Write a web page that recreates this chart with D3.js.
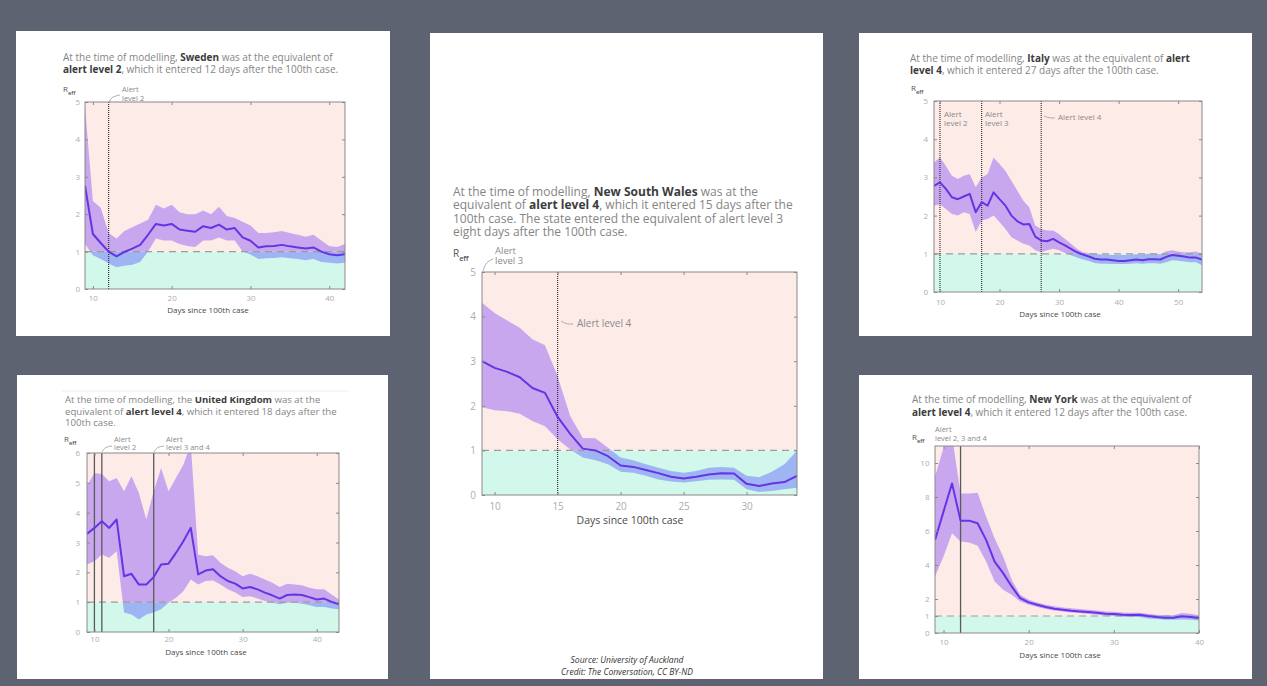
<!DOCTYPE html>
<html>
<head>
<meta charset="utf-8">
<script src="https://cdn.jsdelivr.net/npm/d3@7"></script>
<style>
html, body { margin: 0; padding: 0; background: #5e6371; }
svg { display: block; }
text { font-family: "Open Sans", sans-serif; }
</style>
</head>
<body>
<svg id="chart" width="1267" height="686"></svg>
<script>
// ---- data (days since 100th case, R_eff median and band) ----
const swedenDays = [9,10,11,12,13,14,15,16,17,18,19,20,21,22,23,24,25,26,27,28,29,30,31,32,33,34,35,36,37,38,39,40,41,42];
const swedenMedian = [2.76,1.47,1.23,1.0,0.87,0.99,1.08,1.18,1.45,1.74,1.7,1.74,1.59,1.56,1.53,1.68,1.63,1.72,1.59,1.63,1.38,1.29,1.11,1.14,1.15,1.18,1.14,1.11,1.08,1.11,1.0,0.93,0.9,0.93];
const swedenUpper = [4.87,2.35,2.17,1.5,1.35,1.55,1.65,1.75,1.85,2.25,2.15,2.25,2.05,2.0,2.0,2.1,2.0,2.2,1.95,1.9,1.8,1.7,1.5,1.5,1.52,1.55,1.5,1.45,1.4,1.45,1.3,1.15,1.12,1.2];
const swedenLower = [1.2,0.9,0.8,0.68,0.58,0.62,0.65,0.72,1.0,1.35,1.3,1.3,1.2,1.15,1.12,1.3,1.3,1.38,1.3,1.3,1.0,0.92,0.8,0.82,0.83,0.85,0.82,0.8,0.77,0.8,0.72,0.7,0.68,0.7];
const swedenXTicks = [10,20,30,40];
const swedenYTicks = [0,1,2,3,4,5];
const swedenAlerts = [12];

const nswDays = [9,10,11,12,13,14,15,16,17,18,19,20,21,22,23,24,25,26,27,28,29,30,31,32,33,34];
const nswMedian = [3.0,2.85,2.76,2.64,2.4,2.29,1.75,1.37,1.04,1.0,0.87,0.66,0.63,0.56,0.49,0.41,0.37,0.41,0.46,0.49,0.48,0.25,0.2,0.26,0.29,0.43];
const nswUpper = [4.31,4.08,3.91,3.75,3.49,3.36,2.66,1.77,1.28,1.27,1.06,0.84,0.78,0.69,0.61,0.54,0.5,0.54,0.61,0.63,0.61,0.43,0.4,0.52,0.69,0.99];
const nswLower = [1.97,1.9,1.88,1.82,1.66,1.54,1.25,1.02,0.84,0.78,0.69,0.52,0.5,0.43,0.35,0.3,0.28,0.31,0.34,0.35,0.34,0.13,0.07,0.09,0.13,0.16];
const nswXTicks = [10,15,20,25,30];
const nswYTicks = [0,1,2,3,4,5];
const nswAlerts = [15];

const italyDays = [9,10,11,12,13,14,15,16,17,18,19,20,21,22,23,24,25,26,27,28,29,30,31,32,33,34,35,36,37,38,39,40,41,42,43,44,45,46,47,48,49,50,51,52,53,54];
const italyMedian = [2.78,2.87,2.7,2.48,2.43,2.5,2.57,2.09,2.35,2.26,2.61,2.43,2.26,2.0,1.85,1.77,1.78,1.45,1.35,1.33,1.39,1.3,1.22,1.13,1.04,0.98,0.93,0.87,0.85,0.85,0.83,0.81,0.81,0.83,0.85,0.83,0.86,0.86,0.85,0.92,0.97,0.95,0.93,0.9,0.9,0.85];
const italyUpper = [3.39,3.52,3.3,3.04,2.96,3.04,3.09,2.74,3.0,3.09,3.52,3.35,3.17,2.91,2.65,2.39,2.22,1.74,1.65,1.61,1.61,1.52,1.39,1.26,1.13,1.04,1.02,1.0,0.98,0.98,0.97,0.97,0.97,0.98,0.99,0.98,1.0,1.0,0.99,1.07,1.09,1.06,1.04,1.04,1.06,1.0];
const italyLower = [2.26,2.3,2.17,2.04,2.0,2.09,2.04,1.57,1.87,1.91,2.0,1.83,1.65,1.43,1.35,1.26,1.22,1.09,1.04,1.09,1.13,1.09,1.02,0.96,0.9,0.85,0.81,0.76,0.74,0.74,0.73,0.73,0.73,0.74,0.75,0.74,0.75,0.75,0.74,0.78,0.83,0.82,0.8,0.78,0.78,0.7];
const italyXTicks = [10,20,30,40,50];
const italyYTicks = [0,1,2,3,4,5];
const italyAlerts = [10,17,27];

const ukDays = [9,10,11,12,13,14,15,16,17,18,19,20,21,22,23,24,25,26,27,28,29,30,31,32,33,34,35,36,37,38,39,40,41,42,43];
const ukMedian = [3.29,3.49,3.71,3.49,3.77,1.87,1.95,1.59,1.59,1.84,2.26,2.29,2.65,3.04,3.49,1.93,2.06,2.1,1.87,1.71,1.62,1.46,1.51,1.43,1.32,1.23,1.12,1.24,1.26,1.24,1.17,1.09,1.12,1.01,0.93];
const ukUpper = [4.9,5.33,5.3,5.05,5.16,4.72,5.22,4.66,3.77,4.72,5.5,4.72,5.16,5.61,6.3,2.6,2.54,2.57,2.32,2.15,2.04,1.87,1.95,1.87,1.76,1.65,1.51,1.62,1.59,1.57,1.48,1.43,1.43,1.26,1.09];
const ukLower = [2.26,2.37,2.6,2.49,2.71,0.65,0.59,0.42,0.59,0.65,0.76,0.98,1.15,1.37,1.76,1.59,1.71,1.73,1.59,1.43,1.32,1.17,1.2,1.12,1.04,0.98,0.93,0.98,0.98,0.95,0.9,0.84,0.84,0.79,0.76];
const ukXTicks = [10,20,30,40];
const ukYTicks = [0,1,2,3,4,5,6];
const ukAlerts = [10,11,18];

const nyDays = [9,10,11,12,13,14,15,16,17,18,19,20,21,22,23,24,25,26,27,28,29,30,31,32,33,34,35,36,37,38,39,40];
const nyMedian = [5.48,7.14,8.8,6.61,6.61,6.46,5.48,4.2,3.52,2.74,2.05,1.8,1.66,1.53,1.43,1.37,1.31,1.27,1.23,1.19,1.13,1.12,1.08,1.06,1.08,1.0,0.94,0.9,0.9,0.98,0.94,0.88];
const nyUpper = [9.2,10.9,11.6,8.2,8.2,8.25,6.85,5.58,4.5,3.13,2.25,1.96,1.8,1.66,1.57,1.5,1.45,1.41,1.37,1.33,1.27,1.25,1.21,1.19,1.19,1.13,1.08,1.04,1.04,1.17,1.13,1.04];
const nyLower = [3.33,4.5,5.87,5.38,5.32,5.13,4.2,3.03,2.54,2.25,1.86,1.66,1.53,1.41,1.33,1.27,1.21,1.17,1.12,1.08,1.02,1.0,0.96,0.94,0.94,0.86,0.82,0.78,0.78,0.8,0.78,0.74];
const nyXTicks = [10,20,30,40];
const nyYTicks = [0,1,2,4,6,8,10];
const nyAlerts = [12];

const xLabel = "Days since 100th case";

// ---- colours ----
const PINK = "#fdebe8", MINT = "#d2f8ec";
const BAND_UP = "#c9a7ef", BAND_DOWN = "#9fb5f3";
const LINE = "#6634e4";

const svg = d3.select("#chart");
const defs = svg.append("defs");

function drawPanel(cfg) {
    const g = svg.append("g");
    const [bx0, by0, bx1, by1] = cfg.box;
    g.append("rect").attr("x", bx0).attr("y", by0)
        .attr("width", bx1 - bx0).attr("height", by1 - by0).attr("fill", "#fff");

    const [l, t, r, b] = cfg.plot;
    const x = d3.scaleLinear().domain(cfg.xDomain).range([l, r]);
    const y = d3.scaleLinear().domain(cfg.yDomain).range([b, t]);
    const y1 = y(1);

    // caption, one text block with a tspan run per line
    const cap = g.append("text").attr("font-size", cfg.titleSize).attr("fill", "#858585");
    cfg.title.forEach((line, i) => {
        line.forEach((seg, j) => {
            const ts = cap.append("tspan").text(seg[0])
                .attr("font-weight", seg[1] ? 700 : null)
                .attr("fill", seg[1] ? "#3c3c3c" : null);
            if (j === 0) ts.attr("x", cfg.titleX).attr("y", cfg.titleY + i * cfg.lineH);
        });
    });

    // R_eff label
    const reff = g.append("text").attr("x", cfg.reff[0]).attr("y", cfg.reff[1])
        .attr("font-size", cfg.reffSize).attr("fill", "#555");
    reff.append("tspan").text("R");
    reff.append("tspan").text("eff").attr("font-size", cfg.reffSize * 0.72)
        .attr("font-weight", 600).attr("dy", cfg.reffSize * 0.35);

    // regions above / below R = 1
    g.append("rect").attr("x", l).attr("y", t).attr("width", r - l).attr("height", y1 - t).attr("fill", PINK);
    g.append("rect").attr("x", l).attr("y", y1).attr("width", r - l).attr("height", b - y1).attr("fill", MINT);

    defs.append("clipPath").attr("id", cfg.id + "-up").append("rect")
        .attr("x", l).attr("y", t).attr("width", r - l).attr("height", y1 - t);
    defs.append("clipPath").attr("id", cfg.id + "-down").append("rect")
        .attr("x", l).attr("y", y1).attr("width", r - l).attr("height", b - y1);
    defs.append("clipPath").attr("id", cfg.id + "-plot").append("rect")
        .attr("x", l).attr("y", t).attr("width", r - l).attr("height", b - t);

    const days = cfg.days;
    const area = d3.area()
        .x((d, i) => x(days[i]))
        .y0((d, i) => y(cfg.lower[i]))
        .y1((d, i) => y(cfg.upper[i]));

    g.append("path").datum(cfg.median).attr("d", area)
        .attr("fill", BAND_UP).attr("clip-path", `url(#${cfg.id}-up)`);
    g.append("path").datum(cfg.median).attr("d", area)
        .attr("fill", BAND_DOWN).attr("clip-path", `url(#${cfg.id}-down)`);

    // R = 1 reference
    g.append("line").attr("x1", l).attr("x2", r).attr("y1", y1).attr("y2", y1)
        .attr("stroke", "#9c9c9c").attr("stroke-width", 1.2).attr("stroke-dasharray", "7,5");

    // alert level lines
    cfg.alerts.forEach(day => {
        g.append("line").attr("x1", x(day)).attr("x2", x(day)).attr("y1", t).attr("y2", b)
            .attr("stroke", cfg.alertSolid ? "#5a5a5a" : "#333")
            .attr("stroke-width", cfg.alertSolid ? 1.3 : 1.2)
            .attr("stroke-dasharray", cfg.alertSolid ? null : "1,1");
    });

    // median
    const line = d3.line().x((d, i) => x(days[i])).y(d => y(d));
    g.append("path").datum(cfg.median).attr("d", line)
        .attr("fill", "none").attr("stroke", LINE).attr("stroke-width", 2)
        .attr("stroke-linejoin", "round").attr("clip-path", `url(#${cfg.id}-plot)`);

    // axes: inward ticks on all four sides
    const fmt = d3.format("d");
    const styleAxis = sel => {
        sel.select(".domain").remove();
        sel.attr("font-family", '"Open Sans", sans-serif').attr("font-size", cfg.tickSize);
        sel.selectAll("line").attr("stroke", "#8a8a8a");
        sel.selectAll("text").attr("fill", "#adadad");
    };
    g.append("g").attr("transform", `translate(0,${b})`)
        .call(d3.axisBottom(x).tickValues(cfg.xTicks).tickFormat(fmt).tickSizeInner(-3).tickSizeOuter(0).tickPadding(cfg.xPad))
        .call(styleAxis);
    g.append("g").attr("transform", `translate(0,${t})`)
        .call(d3.axisTop(x).tickValues(cfg.xTicks).tickSizeInner(-3).tickSizeOuter(0).tickFormat(""))
        .call(styleAxis);
    g.append("g").attr("transform", `translate(${l},0)`)
        .call(d3.axisLeft(y).tickValues(cfg.yTicks).tickFormat(fmt).tickSizeInner(-3).tickSizeOuter(0).tickPadding(cfg.yPad))
        .call(styleAxis);
    g.append("g").attr("transform", `translate(${r},0)`)
        .call(d3.axisRight(y).tickValues(cfg.yTicks).tickSizeInner(-3).tickSizeOuter(0).tickFormat(""))
        .call(styleAxis);

    g.append("rect").attr("x", l).attr("y", t).attr("width", r - l).attr("height", b - t)
        .attr("fill", "none").attr("stroke", "#8a8a8a").attr("stroke-width", 1);

    g.append("text").attr("x", cfg.xLabelPos[0]).attr("y", cfg.xLabelPos[1])
        .attr("text-anchor", "middle").attr("font-size", cfg.xLabelSize)
        .attr("fill", "#4a4a4a").text(xLabel);

    // annotations
    cfg.notes.forEach(n => {
        const txt = g.append("text").attr("font-size", n.size).attr("fill", "#8a8a8a");
        n.lines.forEach((s, i) => {
            txt.append("tspan").attr("x", n.x).attr("y", n.y + i * n.lh).text(s);
        });
    });
    cfg.leaders.forEach(p => {
        g.append("path").attr("d", d3.line().curve(d3.curveBasis)(p))
            .attr("fill", "none").attr("stroke", "#999").attr("stroke-width", 0.8);
    });
}

drawPanel({
    id: "swe", box: [16, 31, 390, 336], plot: [85, 102, 345, 289],
    xDomain: [9, 42], yDomain: [0, 5],
    days: swedenDays, median: swedenMedian, upper: swedenUpper, lower: swedenLower,
    xTicks: swedenXTicks, yTicks: swedenYTicks, alerts: swedenAlerts,
    title: [[["At the time of modelling, ", false], ["Sweden", true], [" was at the equivalent of", false]],
            [["alert level 2", true], [", which it entered 12 days after the 100th case.", false]]],
    titleX: 63, titleY: 61, lineH: 12, titleSize: 10,
    reff: [63, 92], reffSize: 8,
    tickSize: 8, xPad: 6, yPad: 5,
    xLabelPos: [208, 313], xLabelSize: 8,
    notes: [{lines: ["Alert", "level 2"], x: 122, y: 92, lh: 8.5, size: 7.5}],
    leaders: [[[109, 103], [111, 97], [120, 95]]]
});

drawPanel({
    id: "nsw", box: [430, 33, 823, 679], plot: [482, 272, 797, 495],
    xDomain: [9, 34], yDomain: [0, 5],
    days: nswDays, median: nswMedian, upper: nswUpper, lower: nswLower,
    xTicks: nswXTicks, yTicks: nswYTicks, alerts: nswAlerts,
    title: [[["At the time of modelling, ", false], ["New South Wales", true], [" was at the", false]],
            [["equivalent of ", false], ["alert level 4", true], [", which it entered 15 days after the", false]],
            [["100th case. The state entered the equivalent of alert level 3", false]],
            [["eight days after the 100th case.", false]]],
    titleX: 453, titleY: 196, lineH: 13.3, titleSize: 12,
    reff: [453, 257], reffSize: 10,
    tickSize: 10, xPad: 8, yPad: 6,
    xLabelPos: [630, 524], xLabelSize: 10.5,
    notes: [{lines: ["Alert", "level 3"], x: 495, y: 254, lh: 9.5, size: 9.5},
            {lines: ["Alert level 4"], x: 577, y: 327, lh: 9, size: 10}],
    leaders: [[[483, 271], [486, 262], [493, 259]], [[561, 321], [566, 324], [573, 324]]]
});

drawPanel({
    id: "ita", box: [859, 33, 1252, 336], plot: [934, 101, 1202, 292],
    xDomain: [9, 54], yDomain: [0, 5],
    days: italyDays, median: italyMedian, upper: italyUpper, lower: italyLower,
    xTicks: italyXTicks, yTicks: italyYTicks, alerts: italyAlerts,
    title: [[["At the time of modelling, ", false], ["Italy", true], [" was at the equivalent of ", false], ["alert", true]],
            [["level 4", true], [", which it entered 27 days after the 100th case.", false]]],
    titleX: 910, titleY: 62, lineH: 12, titleSize: 10,
    reff: [911, 91], reffSize: 8,
    tickSize: 8, xPad: 7, yPad: 6,
    xLabelPos: [1060, 317], xLabelSize: 8,
    notes: [{lines: ["Alert", "level 2"], x: 944, y: 117, lh: 9, size: 8},
            {lines: ["Alert", "level 3"], x: 985, y: 117, lh: 9, size: 8},
            {lines: ["Alert level 4"], x: 1058, y: 120, lh: 9, size: 8}],
    leaders: [[[1044, 116], [1049, 118], [1055, 118]]]
});

drawPanel({
    id: "uk", box: [17, 375, 388, 679], plot: [87, 453, 339, 632],
    xDomain: [9, 43], yDomain: [0, 6],
    days: ukDays, median: ukMedian, upper: ukUpper, lower: ukLower,
    xTicks: ukXTicks, yTicks: ukYTicks, alerts: ukAlerts, alertSolid: true,
    title: [[["At the time of modelling, the ", false], ["United Kingdom", true], [" was at the", false]],
            [["equivalent of ", false], ["alert level 4", true], [", which it entered 18 days after the", false]],
            [["100th case.", false]]],
    titleX: 65, titleY: 403, lineH: 11.5, titleSize: 9.6,
    reff: [64, 442], reffSize: 8,
    tickSize: 8, xPad: 4, yPad: 7,
    xLabelPos: [206, 655], xLabelSize: 8,
    notes: [{lines: ["Alert", "level 2"], x: 114, y: 442, lh: 8, size: 7.5},
            {lines: ["Alert", "level 3 and 4"], x: 166, y: 442, lh: 8, size: 7.5}],
    leaders: [[[102, 452], [105, 447], [112, 446]], [[154, 452], [157, 447], [164, 446]]]
});

drawPanel({
    id: "ny", box: [859, 375, 1252, 679], plot: [935, 446, 1199, 633],
    xDomain: [9, 40], yDomain: [0, 11],
    days: nyDays, median: nyMedian, upper: nyUpper, lower: nyLower,
    xTicks: nyXTicks, yTicks: nyYTicks, alerts: nyAlerts, alertSolid: true,
    title: [[["At the time of modelling, ", false], ["New York", true], [" was at the equivalent of", false]],
            [["alert level 4", true], [", which it entered 12 days after the 100th case.", false]]],
    titleX: 912, titleY: 403, lineH: 13, titleSize: 10,
    reff: [912, 440], reffSize: 8,
    tickSize: 8, xPad: 6, yPad: 5.5,
    xLabelPos: [1060, 658], xLabelSize: 8,
    notes: [{lines: ["Alert", "level 2, 3 and 4"], x: 935, y: 432, lh: 8.5, size: 7.5}],
    leaders: []
});

// faint rule above the UK caption
svg.append("line").attr("x1", 62).attr("x2", 348).attr("y1", 391).attr("y2", 391)
    .attr("stroke", "#eeeeee").attr("stroke-width", 1);

// source / credit
svg.append("text").attr("x", 627).attr("y", 663).attr("text-anchor", "middle")
    .attr("font-family", '"Liberation Sans", sans-serif').attr("font-style", "italic")
    .attr("font-size", 8.5).attr("fill", "#333").text("Source: University of Auckland");
svg.append("text").attr("x", 627).attr("y", 675).attr("text-anchor", "middle")
    .attr("font-family", '"Liberation Sans", sans-serif').attr("font-style", "italic")
    .attr("font-size", 8.5).attr("fill", "#333").text("Credit: The Conversation, CC BY-ND");
</script>
</body>
</html>
